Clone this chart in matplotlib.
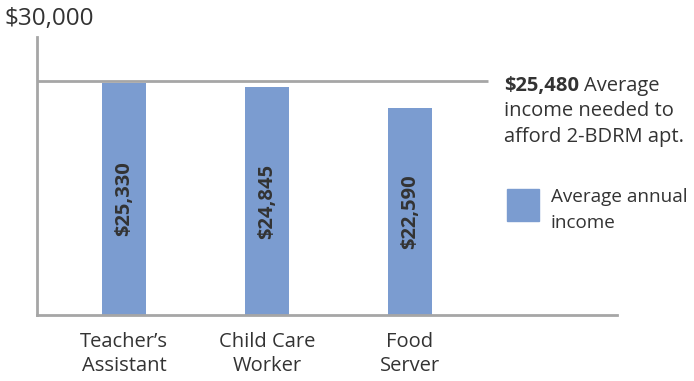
import matplotlib
matplotlib.use("Agg")
import matplotlib.pyplot as plt
from matplotlib.patches import Rectangle

categories = ["Teacher\u2019s\nAssistant", "Child Care\nWorker", "Food\nServer"]
incomes = [25330, 24845, 22590]
bar_labels = ["$25,330", "$24,845", "$22,590"]
needed = 25480
needed_label = "$25,480"
top_label = "$30,000"

plt.rcParams['font.family'] = ['Open Sans', 'DejaVu Sans']
W, H = 694, 381
fig = plt.figure(figsize=(W / 100, H / 100), dpi=100)

def fx(px):
    return px / W

def fy(py):
    return 1 - py / H

ax = fig.add_axes([fx(37), fy(315), fx(617) - fx(37), fy(37) - fy(315)])
bar_color = "#7B9CD0"
axis_color = "#A6A6A6"
text_color = "#333333"
fs = 14.5

x = list(range(len(categories)))
ax.bar(x, incomes, width=0.31, color=bar_color, zorder=2)
ax.set_xlim(-0.61, 3.45)
ax.set_ylim(0, 30300)
for xi, v, lab in zip(x, incomes, bar_labels):
    ax.text(xi, v / 2, lab, rotation=90, ha="center", va="center",
            fontsize=fs, fontweight="bold", color=text_color, zorder=3)

ax.plot([-0.61, 2.55], [needed, needed], color=axis_color, lw=2, zorder=1,
        solid_capstyle="butt", clip_on=False)

for s in ["top", "right"]:
    ax.spines[s].set_visible(False)
for s in ["left", "bottom"]:
    ax.spines[s].set_color(axis_color)
    ax.spines[s].set_linewidth(2)
ax.set_yticks([])
ax.set_xticks(x)
ax.set_xticklabels(categories, fontsize=fs, color=text_color, linespacing=1.3)
ax.tick_params(axis="x", length=0, pad=12)

fig.text(fx(4), fy(19), top_label, fontsize=17.5, color=text_color,
         ha="left", va="center")

# annotation
t1 = fig.text(fx(504), fy(86), needed_label, fontsize=fs, fontweight="bold",
              color=text_color, ha="left", va="center")
fig.canvas.draw()
bb = t1.get_window_extent()
fig.text(bb.x1 / W + fx(5), fy(86), "Average", fontsize=fs, color=text_color,
         ha="left", va="center")
fig.text(fx(504), fy(111), "income needed to", fontsize=fs, color=text_color,
         ha="left", va="center")
fig.text(fx(504), fy(137), "afford 2-BDRM apt.", fontsize=fs, color=text_color,
         ha="left", va="center")

# legend
fig.patches.append(Rectangle((fx(507), fy(221)), fx(32), 32 / H, color=bar_color,
                             transform=fig.transFigure))
fig.text(fx(551), fy(197), "Average annual", fontsize=13.6, color=text_color,
         ha="left", va="center")
fig.text(fx(551), fy(223), "income", fontsize=13.6, color=text_color,
         ha="left", va="center")

fig.savefig("out.png", dpi=100)
